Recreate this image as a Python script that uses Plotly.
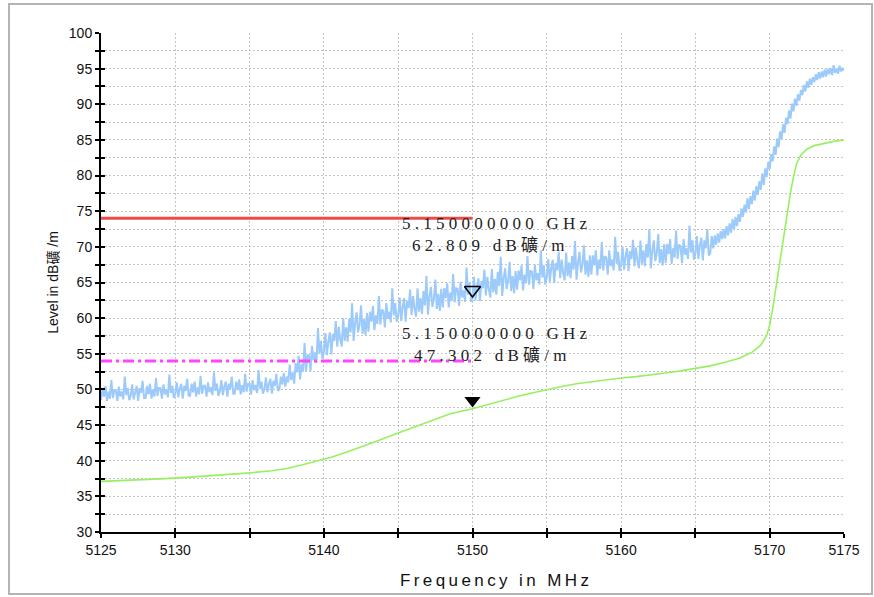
import plotly.graph_objects as go

# Peak detector trace: one reading every 0.1 MHz from 5125.0 to 5175.0 MHz
peak_start = 5125.0
peak_step = 0.1
peak_level = [
    48.5, 50.2, 49.0, 50.5, 48.4, 49.7, 48.7, 51.3, 48.8, 49.9,  # 5125
    49.9, 48.4, 50.4, 49.0, 49.7, 48.6, 51.8, 49.2, 50.2, 48.5,  # 5126
    49.1, 50.7, 48.6, 49.8, 50.5, 48.4, 50.2, 49.5, 51.2, 48.8,  # 5127
    48.8, 50.5, 49.3, 50.8, 48.7, 50.0, 49.0, 51.6, 49.1, 50.2,  # 5128
    50.2, 48.7, 50.7, 49.3, 50.0, 48.9, 52.1, 49.5, 50.5, 48.8,  # 5129
    49.4, 51.0, 48.9, 50.1, 50.8, 48.7, 50.5, 49.8, 51.5, 49.1,  # 5130
    49.1, 50.8, 49.6, 51.1, 49.0, 50.3, 49.3, 51.9, 49.4, 50.5,  # 5131
    50.5, 49.0, 51.0, 49.6, 50.3, 49.2, 52.4, 49.8, 50.8, 49.1,  # 5132
    49.7, 51.3, 49.2, 50.4, 51.1, 49.0, 50.8, 50.1, 51.8, 49.4,  # 5133
    49.4, 51.1, 49.9, 51.4, 49.3, 50.6, 49.6, 52.2, 49.7, 50.8,  # 5134
    50.8, 49.3, 51.3, 49.9, 50.6, 49.5, 52.7, 50.1, 51.1, 49.4,  # 5135
    50.1, 51.7, 49.6, 50.8, 51.5, 49.4, 51.2, 50.5, 52.2, 49.8,  # 5136
    50.0, 51.8, 50.7, 52.3, 50.4, 51.8, 51.0, 53.5, 51.3, 52.4,  # 5137
    50.8, 53.7, 52.4, 54.7, 51.4, 53.6, 52.5, 56.5, 52.6, 54.8,  # 5138
    54.8, 52.6, 56.1, 54.1, 55.2, 53.7, 58.6, 55.0, 56.8, 54.3,  # 5139
    55.3, 57.9, 54.8, 56.8, 58.0, 54.9, 57.8, 56.8, 59.6, 56.0,  # 5140
    58.8, 57.0, 56.0, 60.0, 56.8, 58.7, 56.7, 59.9, 58.0, 62.1,  # 5141
    56.8, 59.3, 60.8, 58.0, 59.1, 61.8, 57.8, 59.9, 57.6, 60.7,  # 5142
    58.1, 60.9, 59.5, 61.7, 58.3, 60.4, 59.2, 63.1, 59.1, 61.2,  # 5143
    61.0, 58.7, 62.1, 59.9, 60.9, 59.4, 64.2, 60.4, 62.1, 59.5,  # 5144
    60.3, 62.9, 59.6, 61.6, 62.8, 59.5, 62.4, 61.4, 64.0, 60.4,  # 5145
    63.1, 61.3, 60.2, 64.2, 60.9, 62.8, 60.6, 63.8, 61.8, 65.9,  # 5146
    60.5, 63.0, 64.4, 61.6, 62.7, 65.4, 61.3, 63.4, 61.0, 64.1,  # 5147
    61.5, 64.2, 62.8, 64.9, 61.5, 63.6, 62.4, 66.2, 62.2, 64.2,  # 5148
    64.1, 61.7, 65.1, 62.9, 63.9, 62.3, 67.1, 63.3, 65.0, 62.3,  # 5149
    62.809, 65.8, 62.5, 64.5, 65.6, 62.4, 65.2, 64.2, 66.8, 63.2,  # 5150
    65.8, 64.0, 62.9, 66.9, 63.6, 65.5, 63.3, 66.5, 64.5, 68.6,  # 5151
    63.1, 65.6, 67.0, 64.1, 65.3, 67.9, 63.8, 65.9, 63.5, 66.6,  # 5152
    64.0, 66.7, 65.3, 67.4, 63.9, 66.1, 64.9, 68.7, 64.7, 66.7,  # 5153
    66.5, 64.1, 67.5, 65.3, 66.3, 64.7, 69.5, 65.7, 67.4, 64.7,  # 5154
    65.8, 68.3, 65.1, 67.0, 68.2, 64.9, 67.7, 66.7, 69.3, 65.6,  # 5155
    68.2, 66.3, 65.3, 69.2, 65.9, 67.8, 65.6, 68.7, 66.8, 70.8,  # 5156
    65.4, 67.8, 69.3, 66.4, 67.5, 70.2, 66.1, 68.1, 65.8, 68.8,  # 5157
    66.1, 68.8, 67.4, 69.5, 66.0, 68.2, 66.9, 70.7, 66.7, 68.7,  # 5158
    68.5, 66.1, 69.5, 67.3, 68.2, 66.7, 71.4, 67.6, 69.3, 66.6,  # 5159
    67.5, 70.0, 66.8, 68.7, 69.8, 66.6, 69.4, 68.3, 71.0, 67.3,  # 5160
    69.9, 68.0, 67.0, 70.9, 67.6, 69.5, 67.3, 70.4, 68.5, 72.5,  # 5161
    67.0, 69.4, 70.9, 68.0, 69.1, 71.8, 67.7, 69.7, 67.4, 70.4,  # 5162
    67.7, 70.4, 69.0, 71.1, 67.6, 69.8, 68.5, 72.3, 68.3, 70.3,  # 5163
    70.1, 67.7, 71.1, 68.9, 69.8, 68.3, 73.0, 69.2, 70.9, 68.2,  # 5164
    69.0, 71.5, 68.3, 70.2, 71.3, 68.1, 70.9, 69.8, 72.5, 68.8,  # 5165
    69.1, 71.5, 69.8, 71.6, 70.3, 71.9, 70.6, 72.2, 71.1, 72.5,  # 5166
    71.2, 72.9, 71.6, 73.3, 72.0, 73.9, 72.4, 74.2, 72.9, 74.6,  # 5167
    73.5, 75.4, 74.2, 75.9, 74.8, 76.8, 75.3, 77.1, 76.0, 77.9,  # 5168
    76.5, 78.5, 77.3, 79.2, 78.0, 80.3, 78.7, 81.0, 79.8, 81.9,  # 5169
    80.9, 83.0, 82.0, 84.1, 82.9, 85.2, 84.0, 86.2, 85.1, 87.2,  # 5170
    86.0, 88.1, 87.2, 89.1, 88.0, 90.1, 89.0, 90.8, 89.8, 91.4,  # 5171
    90.5, 92.0, 91.3, 92.7, 91.8, 93.2, 92.3, 93.6, 92.7, 93.8,  # 5172
    93.1, 94.2, 93.4, 94.5, 93.6, 94.6, 93.8, 94.9, 93.9, 95.0,  # 5173
    94.2, 95.1, 94.1, 95.5, 94.4, 95.0, 94.3, 95.4, 94.6, 95.1,  # 5174
    94.7,                                                        # 5175
]
peak_freq = [round(peak_start + i * peak_step, 1) for i in range(len(peak_level))]

# Average detector trace
avg_freq = [
    5125, 5127, 5129, 5131, 5133, 5135, 5136.5, 5137.5, 5138.5, 5139.5,
    5140.5, 5141.5, 5142.5, 5143.5, 5144.5, 5145.5, 5146.5, 5147.5, 5148.5, 5150,
    5151, 5152, 5153, 5154, 5155, 5156, 5157, 5158, 5159, 5160,
    5161, 5162, 5163, 5164, 5165, 5166, 5167, 5168, 5168.8, 5169.4,
    5169.8, 5170.0, 5170.2, 5170.4, 5170.6, 5170.8, 5171.0, 5171.2, 5171.4, 5171.6,
    5171.8, 5172.1, 5172.5, 5173.0, 5173.6, 5174.3, 5175.0,
]
avg_level = [
    37.1, 37.25, 37.45, 37.7, 37.95, 38.3, 38.6, 38.9, 39.4, 39.9,
    40.5, 41.2, 41.9, 42.7, 43.5, 44.3, 45.0, 45.8, 46.6, 47.302,
    47.9, 48.5, 49.0, 49.5, 50.0, 50.4, 50.8, 51.1, 51.4, 51.6,
    51.8, 52.0, 52.3, 52.6, 52.9, 53.3, 53.8, 54.4, 55.2, 56.2,
    57.6, 59.0, 61.3, 64.0, 67.2, 70.0, 72.8, 75.4, 77.6, 79.8,
    81.6, 82.9, 83.7, 84.2, 84.5, 84.8, 85.0,
]

# Limit lines
limit_freq = [5125, 5150]
peak_limit = 74
avg_limit = 54

# Markers
marker_freq = 5150
marker_peak = 62.809
marker_avg = 47.302

# Axes
x_range = [5125, 5175]
y_range = [30, 100]
x_ticks = [5125, 5130, 5135, 5140, 5145, 5150, 5155, 5160, 5165, 5170, 5175]
x_ticktext = ["5125", "5130", "", "5140", "", "5150", "", "5160", "", "5170", "5175"]
y_ticks = [30 + 2.5 * i for i in range(29)]
y_ticktext = [str(int(v)) if v % 5 == 0 else "" for v in y_ticks]

W, H = 874, 597
ML, MR, MT, MB = 101, 30, 33, 65
plot_w = W - ML - MR
plot_h = H - MT - MB
px_per_db = plot_h / (y_range[1] - y_range[0])

tri_size = 14
tri_tip = tri_size / 2 * 2 / 3 ** 0.5  # distance from symbol centre to its lower tip


def spaced(s, gap="\u2005"):
    return gap.join(s)


def data_y(px):
    return y_range[1] - (px - MT) / px_per_db


def data_x(px):
    return x_range[0] + (px - ML) / plot_w * (x_range[1] - x_range[0])


fig = go.Figure()

# limit lines live on the overlay axes so those axes (and their inner ticks) get drawn
fig.add_trace(go.Scatter(
    x=limit_freq, y=[peak_limit, peak_limit], mode="lines", xaxis="x2", yaxis="y2",
    line=dict(color="#f04b4b", width=3), hoverinfo="skip", showlegend=False))
fig.add_trace(go.Scatter(
    x=limit_freq, y=[avg_limit, avg_limit], mode="lines", xaxis="x2", yaxis="y2",
    line=dict(color="#ff44ff", width=3, dash="11px,4px,3px,4px"),
    hoverinfo="skip", showlegend=False))

fig.add_trace(go.Scatter(
    x=peak_freq, y=peak_level, mode="lines",
    line=dict(color="#9ccafa", width=2), showlegend=False))
fig.add_trace(go.Scatter(
    x=avg_freq, y=avg_level, mode="lines",
    line=dict(color="#96f060", width=1.6), showlegend=False))

fig.add_trace(go.Scatter(
    x=[marker_freq], y=[marker_peak + tri_tip / px_per_db], mode="markers",
    marker=dict(symbol="triangle-down-open", size=tri_size, color="black",
                line=dict(color="black", width=1.5)),
    showlegend=False))
fig.add_trace(go.Scatter(
    x=[marker_freq], y=[marker_avg + tri_tip / px_per_db], mode="markers",
    marker=dict(symbol="triangle-down", size=tri_size, color="black"),
    showlegend=False))

ann_font = dict(family="Liberation Serif, Noto Sans CJK SC, serif", size=17, color="#222222")
labels = [
    (spaced("5.150000000 GHz"), 400, 223),
    (spaced(f"{marker_peak:.3f} dB礦/m"), 410, 245),
    (spaced("5.150000000 GHz"), 400, 333),
    (spaced(f"{marker_avg:.3f} dB礦/m"), 412, 355),
]
for text, px, py in labels:
    fig.add_annotation(x=data_x(px), y=data_y(py), text=text, showarrow=False,
                       xanchor="left", yanchor="middle", font=ann_font)

# x axis title
fig.add_annotation(xref="paper", yref="paper",
                   x=(494 - ML) / plot_w, y=(H - MB - 580) / plot_h,
                   text=spaced("Frequency in MHz", "\u2009"), showarrow=False,
                   xanchor="center", yanchor="middle",
                   font=dict(family="Liberation Sans, Arial, sans-serif", size=17, color="#111111"))

# Outer frame around the chart
fig.add_shape(type="rect", xref="paper", yref="paper",
              x0=(9 - ML) / plot_w, x1=(872 - ML) / plot_w,
              y0=(H - MB - 594) / plot_h, y1=(H - MB - 4) / plot_h,
              line=dict(color="#b4b4b4", width=2), layer="below")

tick_font = dict(family="Liberation Sans, Arial, sans-serif", size=14, color="#111111")
grid_dash = "2px,2px"
fig.update_layout(
    width=W, height=H,
    margin=dict(l=ML, r=MR, t=MT, b=MB),
    paper_bgcolor="white", plot_bgcolor="white",
    xaxis=dict(range=x_range, tickvals=x_ticks, ticktext=x_ticktext,
               showline=True, linecolor="black", linewidth=2,
               ticks="outside", ticklen=4, tickwidth=2, tickcolor="black",
               showgrid=True, gridcolor="#c4c4c4", griddash=grid_dash, gridwidth=1,
               zeroline=False, tickfont=tick_font),
    yaxis=dict(range=y_range, tickvals=y_ticks, ticktext=y_ticktext,
               showline=True, linecolor="black", linewidth=2,
               ticks="outside", ticklen=4, tickwidth=2, tickcolor="black",
               showgrid=True, gridcolor="#c4c4c4", griddash=grid_dash, gridwidth=1,
               zeroline=False, tickfont=tick_font,
               title=dict(text="Level in dB礦 /m",
                          font=dict(family="Liberation Sans, Noto Sans CJK SC, sans-serif", size=14, color="#111111"),
                          standoff=7)),
    xaxis2=dict(range=x_range, overlaying="x", anchor="y2", side="bottom",
                tickvals=x_ticks, showticklabels=False, ticks="inside", ticklen=4,
                tickwidth=2, tickcolor="black", showgrid=False, zeroline=False, showline=False),
    yaxis2=dict(range=y_range, overlaying="y", anchor="x2", side="left",
                tickvals=y_ticks, showticklabels=False, ticks="inside", ticklen=4,
                tickwidth=2, tickcolor="black", showgrid=False, zeroline=False, showline=False),
)

fig.write_html("out.html")
